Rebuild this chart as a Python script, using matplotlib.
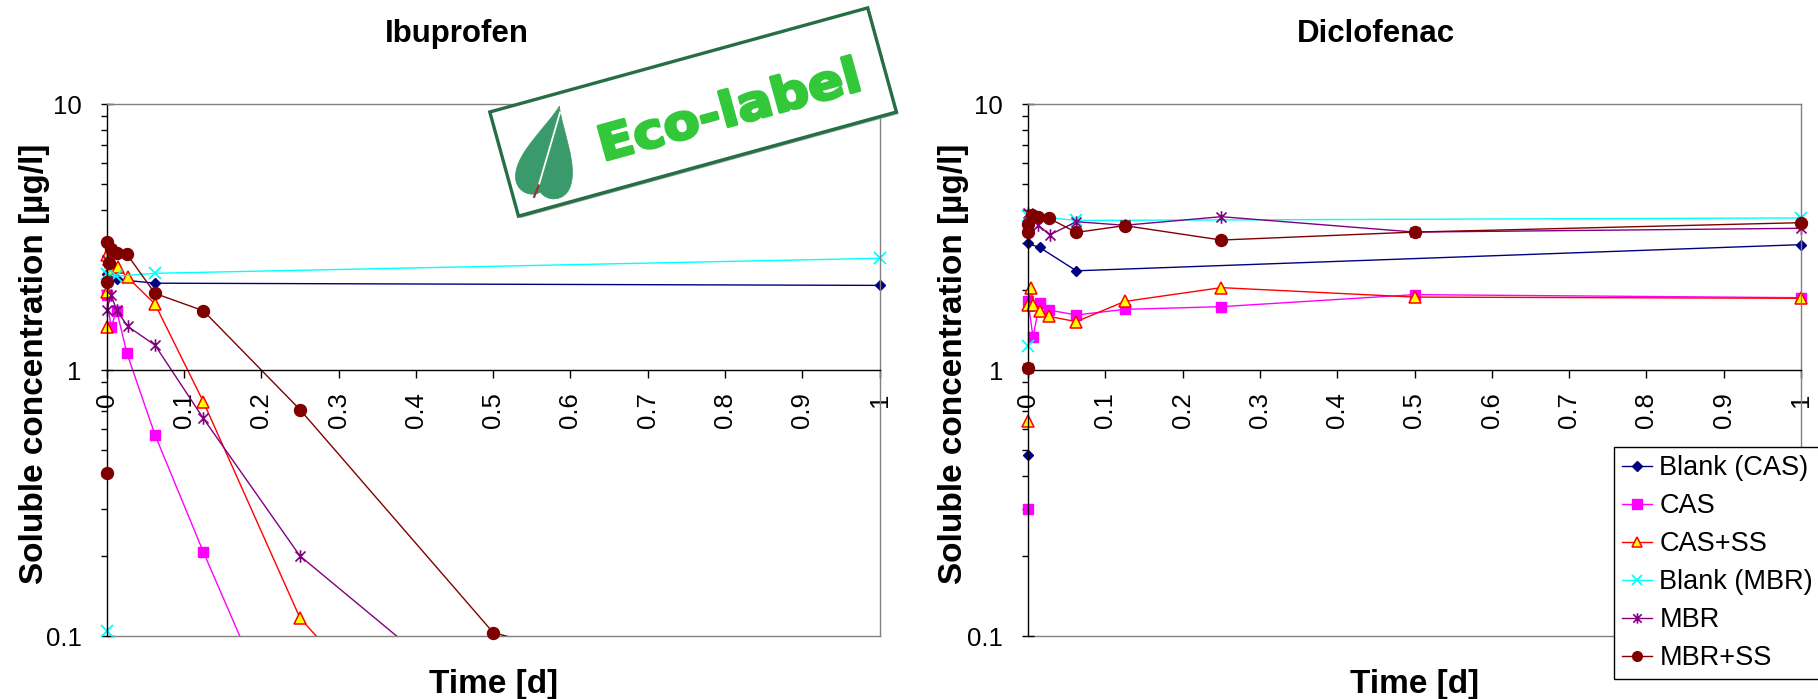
import numpy as np
import matplotlib
matplotlib.use('Agg')
import matplotlib.pyplot as plt
from matplotlib.path import Path
from matplotlib.patches import PathPatch, Polygon
from matplotlib.lines import Line2D
from matplotlib.textpath import TextPath
from matplotlib.font_manager import FontProperties
from matplotlib.transforms import Affine2D
from matplotlib.ticker import LogLocator, NullFormatter

plt.rcParams['font.family'] = ['Liberation Sans', 'DejaVu Sans']

# ---------------- data ----------------
series_names = ['Blank (CAS)', 'CAS', 'CAS+SS', 'Blank (MBR)', 'MBR', 'MBR+SS']

x_ticks = [0, 0.1, 0.2, 0.3, 0.4, 0.5, 0.6, 0.7, 0.8, 0.9, 1]
x_tick_labels = ['0', '0.1', '0.2', '0.3', '0.4', '0.5', '0.6', '0.7', '0.8', '0.9', '1']
y_ticks = [0.1, 1, 10]
y_tick_labels = ['0.1', '1', '10']

# Ibuprofen
ibu_blank_cas_t = [0, 0, 0.013, 0.0625, 1]
ibu_blank_cas_c = [0.05, 2.30, 2.19, 2.12, 2.08]
ibu_cas_t = [0, 0.0056, 0.013, 0.026, 0.0625, 0.125, 0.25]
ibu_cas_c = [1.91, 1.45, 1.67, 1.16, 0.57, 0.207, 0.03]
ibu_cas_ss_t = [0, 0, 0.001, 0.0056, 0.014, 0.027, 0.0625, 0.125, 0.25, 0.5]
ibu_cas_ss_c = [1.45, 1.97, 2.70, 2.39, 2.43, 2.23, 1.77, 0.76, 0.117, 0.018]
ibu_blank_mbr_t = [0, 0, 0.012, 0.0625, 1]
ibu_blank_mbr_c = [0.104, 2.30, 2.25, 2.31, 2.63]
ibu_mbr_t = [0, 0, 0, 0.0056, 0.013, 0.027, 0.0625, 0.125, 0.25, 0.5]
ibu_mbr_c = [0.05, 2.60, 1.68, 1.91, 1.68, 1.46, 1.24, 0.658, 0.20, 0.05]
ibu_mbr_ss_t = [0, 0, 0, 0.003, 0.0056, 0.013, 0.026, 0.0625, 0.125, 0.25, 0.5, 1]
ibu_mbr_ss_c = [0.41, 2.15, 3.04, 2.52, 2.84, 2.76, 2.73, 1.94, 1.67, 0.71, 0.103, 0.042]

# Diclofenac
dic_blank_cas_t = [0, 0, 0.015, 0.0625, 1]
dic_blank_cas_c = [0.48, 2.99, 2.89, 2.36, 2.96]
dic_cas_t = [0, 0, 0.0065, 0.015, 0.027, 0.0625, 0.125, 0.25, 0.5, 1]
dic_cas_c = [0.30, 1.81, 1.33, 1.79, 1.68, 1.61, 1.69, 1.73, 1.92, 1.87]
dic_cas_ss_t = [0, 0, 0.004, 0.0065, 0.015, 0.027, 0.0625, 0.125, 0.25, 0.5, 1]
dic_cas_ss_c = [0.645, 1.75, 2.04, 1.75, 1.67, 1.59, 1.52, 1.81, 2.04, 1.88, 1.86]
dic_blank_mbr_t = [0, 0, 0.0625, 1]
dic_blank_mbr_c = [1.23, 3.80, 3.65, 3.73]
dic_mbr_t = [0, 0, 0.013, 0.028, 0.0625, 0.125, 0.25, 0.5, 1]
dic_mbr_c = [1.02, 3.90, 3.51, 3.22, 3.61, 3.50, 3.77, 3.30, 3.41]
dic_mbr_ss_t = [0, 0, 0, 0.005, 0.013, 0.027, 0.0625, 0.125, 0.25, 0.5, 1]
dic_mbr_ss_c = [1.02, 3.31, 3.54, 3.83, 3.77, 3.72, 3.29, 3.49, 3.08, 3.30, 3.58]

ibu_data = [(ibu_blank_cas_t, ibu_blank_cas_c), (ibu_cas_t, ibu_cas_c),
            (ibu_cas_ss_t, ibu_cas_ss_c), (ibu_blank_mbr_t, ibu_blank_mbr_c),
            (ibu_mbr_t, ibu_mbr_c), (ibu_mbr_ss_t, ibu_mbr_ss_c)]
dic_data = [(dic_blank_cas_t, dic_blank_cas_c), (dic_cas_t, dic_cas_c),
            (dic_cas_ss_t, dic_cas_ss_c), (dic_blank_mbr_t, dic_blank_mbr_c),
            (dic_mbr_t, dic_mbr_c), (dic_mbr_ss_t, dic_mbr_ss_c)]

# ---------------- styles ----------------
star_path = Path([(-1, -1), (1, 1), (-1, 1), (1, -1), (0, -1.25), (0, 1.25)],
                 [Path.MOVETO, Path.LINETO, Path.MOVETO, Path.LINETO, Path.MOVETO, Path.LINETO])
styles = [
    dict(color='#000080', marker='D', ms=5.4, mfc='#000080', mec='#000080', mew=1),
    dict(color='#FF00FF', marker='s', ms=7.5, mfc='#FF00FF', mec='#FF00FF', mew=1),
    dict(color='#FF0000', marker='^', ms=9, mfc='#FFFF00', mec='#FF0000', mew=1.1),
    dict(color='#00FFFF', marker='x', ms=8.5, mfc='none', mec='#00FFFF', mew=1.3),
    dict(color='#800080', marker=star_path, ms=9, mfc='none', mec='#800080', mew=1.2),
    dict(color='#800000', marker='o', ms=8.6, mfc='#800000', mec='#800000', mew=1),
]
leg_ms = [4.6, 6.5, 7.5, 7.5, 7.5, 7.0]

W, H = 1818, 699
fig = plt.figure(figsize=(W / 100, H / 100), dpi=100)
fig.patch.set_facecolor('white')

ax_l = fig.add_axes([106.7 / W, 1 - 636 / H, 773 / W, 532 / H])
ax_r = fig.add_axes([1028 / W, 1 - 636 / H, 773 / W, 532 / H])


def setup(ax):
    ax.set_yscale('log')
    ax.set_xlim(0, 1)
    ax.set_ylim(0.1, 10)
    ax.spines['bottom'].set_position(('data', 1))
    ax.spines['bottom'].set_color('black')
    ax.spines['left'].set_color('black')
    ax.spines['top'].set_color('#808080')
    ax.spines['right'].set_color('#808080')
    for s in ax.spines.values():
        s.set_linewidth(1)
    ax.plot([0, 1], [0, 0], transform=ax.transAxes, color='#808080', lw=1,
            clip_on=False, zorder=0.5)
    ax.set_xticks(x_ticks)
    ax.set_xticklabels(x_tick_labels, rotation=90)
    ax.set_yticks(y_ticks)
    ax.set_yticklabels(y_tick_labels)
    ax.yaxis.set_minor_locator(LogLocator(base=10, subs=range(2, 10)))
    ax.yaxis.set_minor_formatter(NullFormatter())
    ax.tick_params(axis='x', direction='out', length=6, width=1, pad=10, labelsize=18.5)
    ax.tick_params(axis='y', which='major', direction='inout', length=9, width=1,
                   pad=13.5, labelsize=18.5)
    ax.tick_params(axis='y', which='minor', direction='out', length=4.3, width=1)


def draw(ax, data):
    for i, ((t, c), st) in enumerate(zip(data, styles)):
        t = np.asarray(t, float)
        c = np.asarray(c, float)
        ax.plot(t, c, color=st['color'], lw=1, zorder=2 + i * 0.1)
        m = (c >= 0.1) & (c <= 10)
        ax.plot(t[m], c[m], ls='none', marker=st['marker'], ms=st['ms'],
                mfc=st['mfc'], mec=st['mec'], mew=st['mew'],
                zorder=2.05 + i * 0.1, clip_on=False)


for ax, data in [(ax_l, ibu_data), (ax_r, dic_data)]:
    setup(ax)
    draw(ax, data)

# titles and axis labels
fig.text(456.7 / W, 1 - 41.7 / H, 'Ibuprofen', ha='center', va='baseline',
         fontsize=22.5, fontweight='bold')
fig.text(1376 / W, 1 - 41.7 / H, 'Diclofenac', ha='center', va='baseline',
         fontsize=22.5, fontweight='bold')
for xc in [(106.7 + 880) / 2, (1028 + 1801) / 2]:
    fig.text(xc / W, 1 - 693 / H, 'Time [d]', ha='center', va='baseline',
             fontsize=24, fontweight='bold')
for xc in [35, 953]:
    fig.text(xc / W, 1 - 364 / H, 'Soluble concentration [µg/l]', rotation=90,
             ha='center', va='center', fontsize=24, fontweight='bold')

# legend
handles = [Line2D([0], [0], color=st['color'], lw=1, marker=st['marker'], ms=lm,
                  mfc=st['mfc'], mec=st['mec'], mew=st['mew'])
           for st, lm in zip(styles, leg_ms)]
leg = fig.legend(handles, series_names, loc='upper left',
                 bbox_to_anchor=(1614.3 / W, 1 - 447.3 / H), fontsize=19.5,
                 frameon=True, fancybox=False, framealpha=1, edgecolor='black',
                 handlelength=1.08, handletextpad=0.28, labelspacing=0.44,
                 borderpad=0.3, borderaxespad=0)
leg.get_frame().set_linewidth(1)

# ---------------- Eco-label logo (decoration) ----------------
lax = fig.add_axes([0, 0, 1, 1], zorder=10)
lax.set_xlim(0, W)
lax.set_ylim(H, 0)
lax.axis('off')
lax.patch.set_alpha(0)

cx, cy = 693.1, 112.0
rw, rh = 392.0, 108.0
ang = np.deg2rad(15.4)
u = np.array([np.cos(ang), -np.sin(ang)])
v = np.array([np.sin(ang), np.cos(ang)])
cen = np.array([cx, cy])
corners = [cen - rw / 2 * u - rh / 2 * v, cen + rw / 2 * u - rh / 2 * v,
           cen + rw / 2 * u + rh / 2 * v, cen - rw / 2 * u + rh / 2 * v]
lax.add_patch(Polygon([p + np.array([2.0, 2.0]) for p in corners], closed=True,
                      facecolor='#8fa596', edgecolor='none', zorder=1))
lax.add_patch(Polygon(corners, closed=True, facecolor='white', edgecolor='#256f43',
                      lw=2.4, zorder=2))

# leaf
leaf = Path([(0, -48), (8, -25), (31, 5), (28, 28), (26, 45), (8, 48), (0, 40),
             (-8, 48), (-26, 45), (-28, 28), (-31, 5), (-8, -25), (0, -48)],
            [Path.MOVETO] + [Path.CURVE4] * 12)
leaf_tr = Affine2D().rotate_deg(12.5).translate(549, 153) + lax.transData
lax.add_patch(PathPatch(leaf, facecolor='#3a9a6b', edgecolor='#3a9a6b', lw=0.5,
                        transform=leaf_tr, zorder=3))
lax.plot([2, -3], [-42, 34], color='white', lw=1.3, transform=leaf_tr, zorder=4)
lax.plot([-3, -5], [34, 46], color='#9b3030', lw=1.6, transform=leaf_tr, zorder=4)

# text
fp = FontProperties(family='DejaVu Sans', weight='bold')
tp = TextPath((0, 0), 'Eco-label', size=1, prop=fp)
ext = tp.get_extents()
cap = 0.729
sx = 262.0 / ext.width
sy = 35.0 / cap
tcen = cen + 35.5 * u + 6.0 * v
t_tr = (Affine2D().translate(-(ext.x0 + ext.width / 2), -cap / 2).scale(sx, -sy)
        .rotate_deg(-15.4).translate(tcen[0], tcen[1]) + lax.transData)
lax.add_patch(PathPatch(tp, facecolor='#33c73a', edgecolor='#33c73a', lw=2.0,
                        joinstyle='round', transform=t_tr, zorder=5))

fig.savefig('out.png', dpi=100, facecolor='white')
